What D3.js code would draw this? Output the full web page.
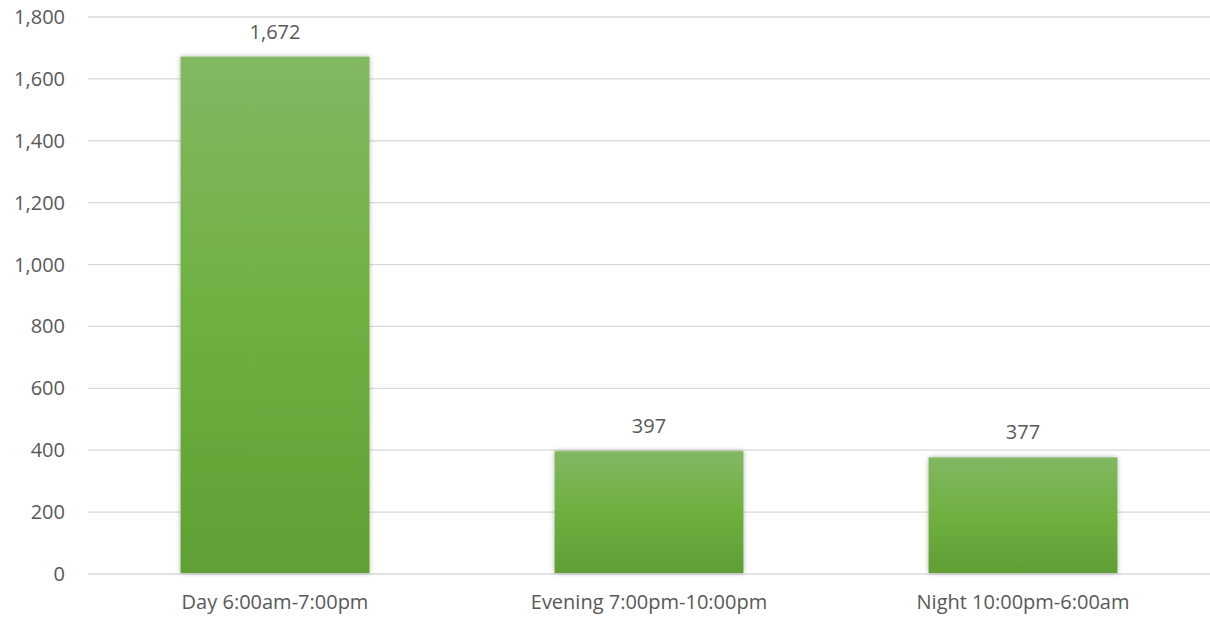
<!DOCTYPE html>
<html>
<head>
<meta charset="utf-8">
<script src="https://cdn.jsdelivr.net/npm/d3@7"></script>
<style>
  body { margin: 0; background: #fff; }
  text { font-family: "Open Sans", sans-serif; fill: #595959; }
</style>
</head>
<body>
<div id="chart"></div>
<script>
var categories = ["Day 6:00am-7:00pm", "Evening 7:00pm-10:00pm", "Night 10:00pm-6:00am"]
var values = [1672, 397, 377]
var y_ticks = [0, 200, 400, 600, 800, 1000, 1200, 1400, 1600, 1800]

var width = 1210
var height = 620
var left = 88
var top_y = 17
var bottom_y = 574
var font_size = "20px"

var svg = d3.select("#chart")
    .append("svg")
    .attr("width", width)
    .attr("height", height)

var defs = svg.append("defs")
var grad = defs.append("linearGradient")
    .attr("id", "green")
    .attr("x1", 0).attr("y1", 0).attr("x2", 0).attr("y2", 1)
grad.append("stop").attr("offset", "0%").attr("stop-color", "#81b862")
grad.append("stop").attr("offset", "50%").attr("stop-color", "#6eb040")
grad.append("stop").attr("offset", "100%").attr("stop-color", "#5f9f34")

var shadow = defs.append("filter")
    .attr("id", "shadow")
    .attr("x", "-10%").attr("y", "-10%").attr("width", "120%").attr("height", "120%")
shadow.append("feDropShadow")
    .attr("dx", 0).attr("dy", 0)
    .attr("stdDeviation", 2.5)
    .attr("flood-color", "#000")
    .attr("flood-opacity", 0.3)

var x = d3.scaleBand()
    .domain(categories)
    .range([left, width])
    .paddingInner(0.495)
    .paddingOuter(0.2475)

var y = d3.scaleLinear()
    .domain([0, 1800])
    .range([bottom_y, top_y])

// gridlines
svg.append("g")
    .selectAll("line")
    .data(y_ticks)
    .join("line")
    .attr("x1", left)
    .attr("x2", width)
    .attr("y1", d => y(d))
    .attr("y2", d => y(d))
    .attr("stroke", "#d9d9d9")
    .attr("stroke-width", 1.3)

// y labels
svg.append("g")
    .selectAll("text")
    .data(y_ticks)
    .join("text")
    .attr("x", 65)
    .attr("y", d => y(d))
    .attr("dy", "0.35em")
    .attr("text-anchor", "end")
    .style("font-size", font_size)
    .text(d => d3.format(",")(d))

// bars
svg.append("g")
    .selectAll("rect")
    .data(values)
    .join("rect")
    .attr("x", (d, i) => x(categories[i]))
    .attr("y", d => y(d))
    .attr("width", x.bandwidth())
    .attr("height", d => y(0) - y(d) - 1)
    .attr("fill", "url(#green)")
    .attr("filter", "url(#shadow)")

// value labels
svg.append("g")
    .selectAll("text")
    .data(values)
    .join("text")
    .attr("x", (d, i) => x(categories[i]) + x.bandwidth() / 2)
    .attr("y", d => y(d) - 18)
    .attr("text-anchor", "middle")
    .style("font-size", font_size)
    .text(d => d3.format(",")(d))

// category labels
svg.append("g")
    .selectAll("text")
    .data(categories)
    .join("text")
    .attr("x", d => x(d) + x.bandwidth() / 2)
    .attr("y", 609)
    .attr("text-anchor", "middle")
    .style("font-size", font_size)
    .text(d => d)
</script>
</body>
</html>
